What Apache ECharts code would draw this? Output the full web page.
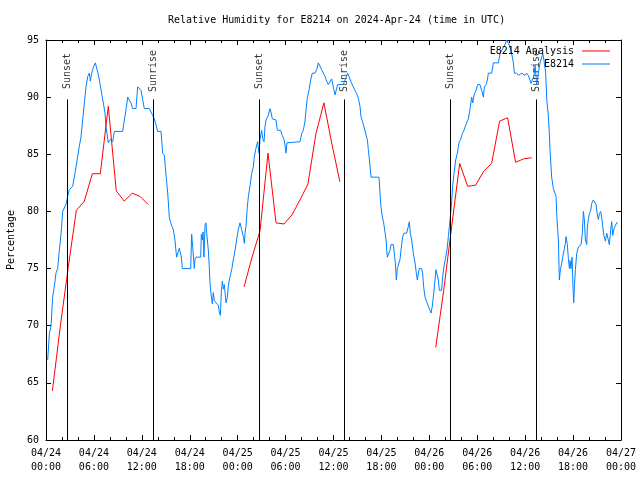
<!DOCTYPE html>
<html><head><meta charset="utf-8">
<script src="https://cdn.jsdelivr.net/npm/echarts/dist/echarts.min.js"></script>
<style>html,body{margin:0;padding:0;background:#fff}#c{width:640px;height:480px}</style>
</head><body><div id="c"></div><script>
// Hours since 2024-04-24 00:00 UTC
const obsTime = [0.21,0.42,0.63,0.83,1.04,1.25,1.46,1.67,1.88,2.09,2.30,2.50,2.71,2.92,3.34,3.55,3.76,3.96,4.17,4.38,4.59,4.80,5.01,5.22,5.43,5.55,5.72,5.97,6.18,6.34,6.51,6.76,6.97,7.18,7.39,7.51,7.64,7.80,7.93,8.06,8.35,8.56,9.60,9.81,10.02,10.23,10.43,10.64,10.85,11.27,11.48,11.69,11.90,12.10,12.31,12.94,13.15,13.36,13.56,13.77,13.98,14.40,14.61,14.82,14.94,15.11,15.24,15.44,15.61,15.86,15.94,16.15,16.28,16.36,16.57,16.70,16.78,16.95,17.07,18.12,18.24,18.37,18.57,18.66,18.78,19.37,19.45,19.57,19.66,19.78,19.91,20.03,20.12,20.33,20.45,20.53,20.66,20.83,20.95,21.08,21.29,21.58,21.70,21.83,21.96,22.08,22.21,22.33,22.54,22.71,22.83,23.04,23.25,23.46,23.67,23.88,24.08,24.29,24.50,24.71,24.84,24.92,25.04,25.21,25.34,25.54,25.75,25.96,26.09,26.25,26.50,26.67,26.80,27.00,27.13,27.30,27.42,27.55,27.84,28.05,28.17,28.34,28.80,28.97,29.39,29.55,29.80,29.93,30.05,30.17,30.34,31.81,32.01,32.22,32.43,32.56,32.72,32.93,33.14,33.35,33.68,33.89,34.10,34.31,34.52,34.73,34.94,35.14,35.35,35.56,35.77,35.90,36.06,36.19,36.52,37.23,37.44,37.77,37.94,38.28,38.48,38.69,38.90,39.11,39.32,39.44,39.61,39.86,40.07,40.24,40.36,40.49,40.70,41.70,41.82,41.95,42.12,42.28,42.45,42.58,42.74,42.95,43.08,43.20,43.49,43.62,43.74,43.87,43.99,44.20,44.33,44.45,44.66,44.83,45.16,45.37,45.50,45.62,45.79,46.00,46.21,46.37,46.50,46.62,46.75,47.04,47.16,47.29,47.46,47.66,47.80,48.00,48.21,48.37,48.54,48.71,48.83,49.00,49.13,49.25,49.54,49.67,49.84,50.05,50.21,50.38,50.51,50.67,50.80,50.92,51.09,51.30,51.51,51.71,51.92,52.13,52.34,52.59,52.88,53.09,53.30,53.43,53.64,53.85,54.05,54.34,54.55,54.77,54.89,55.10,55.27,55.39,55.81,56.02,56.65,56.85,57.06,57.48,57.69,57.90,58.11,58.31,58.52,58.65,58.94,59.15,59.57,59.98,60.19,60.40,60.61,60.74,60.94,61.11,61.24,61.36,61.45,61.65,61.86,62.07,62.20,62.36,62.57,62.70,62.91,63.03,63.11,63.24,63.32,63.53,63.74,63.87,63.95,64.07,64.16,64.24,64.28,64.41,64.53,64.70,64.87,65.03,65.12,65.20,65.28,65.41,65.54,65.62,65.74,65.87,65.99,66.08,66.16,66.29,66.45,66.66,67.00,67.16,67.29,67.41,67.54,67.71,67.79,67.91,68.04,68.21,68.33,68.54,68.75,68.87,69.04,69.17,69.29,69.46,69.58,69.71,69.88,70.04,70.21,70.38,70.54,70.71,70.84,70.96,71.13,71.25,71.46,71.59];
const obsRH = [67.0,69.3,70,72.5,73.4,74.6,75,76.6,78,80,80,80.6,81.3,81.9,82.2,83,83.9,84.8,85.7,86.5,88,89.5,90.9,91.8,92.1,91.4,92.1,92.7,93,93,92.1,91.2,90.3,89.5,88.6,87.4,86.8,86,86.1,86.3,86.1,87,87,88,88.9,90,90,89.5,89,89,90.9,91,90.6,89.8,89,89,88.7,88.4,88.1,87.6,87,87,85.1,84.9,83.9,82.6,81.6,79.5,79,79,78.4,77.5,76.5,76,76,76.8,76.5,76,75,75,78,76.9,75,75.8,76,76,78,77.5,78.2,76,78.8,79,78.1,76.6,75.1,73.8,72.8,71.9,72.9,72.2,72,71.8,71.2,70.9,73,73.9,73.2,73.6,72,72.5,73.5,74.3,74.9,75.8,76.6,77.6,78.4,79,78.4,77.8,77.2,78.1,78.7,80.4,81.3,82.2,83.3,83.9,84.8,85.4,86.1,85.1,86.3,87.1,86.4,86.1,87.4,88,88.4,89,88.7,88.1,88,87.1,87.1,86.7,86.3,85.8,85.1,86,86.1,86.1,86.8,87.1,87.9,88.9,89.9,90.6,91.5,92.1,92.1,92.4,93,93,92.4,92.1,91.8,91.4,91.1,91.1,91.6,91.5,90.6,90.2,91.1,91.1,91.5,92.1,91.8,91.2,90.9,90.6,90.3,89.9,89.2,88.3,87.9,87.3,86.7,86.3,85.4,84.6,83,83,81.6,80.4,79.5,79,78.2,77.5,76,76,76.6,77.1,77.1,76.3,75.5,74,75,75,75.8,76.6,77.8,78.1,78.1,78.7,79.1,78.1,77.5,76.3,75.5,74.6,74,74.6,75,75,74.6,73.4,72.5,72.1,72,71.5,71.1,71.7,72.8,74,74.9,74.9,74,73.1,73.1,74.3,75.2,76,76.6,77.8,78.7,79.8,80.9,82.2,83.3,84.5,85.1,86,86.3,86.8,87.1,87.6,88.1,88.9,90,89.5,90.3,90.6,91.1,91.1,90.6,90,90.9,91.1,91.5,92.1,92.1,93,93,93.8,94.1,94.6,95,94.7,94.4,93.8,93,92.1,92.1,91.9,92.1,91.9,92.1,91.9,91.8,91.2,91.6,91.9,92.8,91.8,91.1,92.1,93,93.5,93.8,93.2,92.1,89.8,88.3,86.8,85.4,83.9,83,82,82,81.3,79.8,78.4,77.5,75.2,74,74.9,75.3,76,76.6,77.2,77.8,77.9,77.1,75.9,75,75.7,75,76,73.4,72,73.4,74.9,76.3,76.9,77.1,78.1,80,79.3,77.5,77.1,78.7,79.3,79.8,80.1,80.7,81,81,80.6,79.7,79.3,79.8,80,79.5,78.7,77.8,77.4,78.1,77.6,77.1,78.4,79.1,77.9,78.5,78.7,79,79];
const anaTime = [0.8,1.8,2.8,3.8,4.8,5.8,6.8,7.8,8.8,9.8,10.8,11.8,12.8,18.0,24.8,25.8,26.8,27.8,28.8,29.8,30.8,31.8,32.8,33.8,34.8,35.8,36.8,42.0,48.8,49.8,50.8,51.8,52.8,53.8,54.8,55.8,56.8,57.8,58.8,59.8,60.8];
const anaRH = [64.3,70.0,75.2,80.1,80.9,83.3,83.3,89.2,81.8,80.9,81.6,81.3,80.6,null,73.4,76.0,78.3,85.1,79.0,78.9,79.7,81.0,82.4,86.8,89.5,85.9,82.6,null,68.1,73.1,78.7,84.2,82.2,82.3,83.5,84.2,87.9,88.2,84.3,84.6,84.7];
const sunsetTimes = [2.63, 26.71, 50.63];
const sunriseTimes = [13.44, 37.36, 61.36];
const seriesNames = ['E8214 Analysis', 'E8214'];

const FONT = 'DejaVu Sans Mono';
const lineTop = 89.8, labelLevel = 92.2;

function fmtHour(v) {
  const d = 24 + Math.floor(v / 24);
  const hh = v % 24;
  return '04/' + d + '\n' + String(hh).padStart(2, '0') + ':00';
}

const obsData = obsTime.map((t, i) => [t, obsRH[i]]);
const anaData = anaTime.map((t, i) => [t, anaRH[i] == null ? '-' : anaRH[i]]);
const eventData = sunsetTimes.map(t => [t, labelLevel, 'Sunset'])
  .concat(sunriseTimes.map(t => [t, labelLevel, 'Sunrise']));
const eventLines = sunsetTimes.concat(sunriseTimes).map(t => [{coord: [t, 60]}, {coord: [t, lineTop]}]);

const xBase = {
  type: 'value', min: 0, max: 72, interval: 6,
  axisLine: {show: true, onZero: false, lineStyle: {color: '#000', width: 1}},
  axisTick: {show: true, inside: true, length: 5, lineStyle: {color: '#000'}},
  minorTick: {show: true, splitNumber: 3, length: 3, lineStyle: {color: '#000'}},
  splitLine: {show: false}
};
const yBase = {
  type: 'value', min: 60, max: 95, interval: 5,
  axisLine: {show: true, onZero: false, lineStyle: {color: '#000', width: 1}},
  axisTick: {show: true, inside: true, length: 5, lineStyle: {color: '#000'}},
  splitLine: {show: false}
};
const legendText = {fontFamily: FONT, fontSize: 10, color: '#000', padding: [0, 3, 0, 0]};

const chart = echarts.init(document.getElementById('c'), null, {renderer: 'canvas'});
chart.setOption({
  animation: false,
  backgroundColor: '#fff',
  textStyle: {fontFamily: FONT},
  title: {
    text: 'Relative Humidity for E8214 on 2024-Apr-24 (time in UTC)',
    left: 163, top: 10,
    textStyle: {fontFamily: FONT, fontSize: 10, fontWeight: 'normal', color: '#000'}
  },
  grid: {left: 46, right: 19, top: 40, bottom: 40, containLabel: false, outerBoundsMode: 'none'},
  legend: [
    {data: [seriesNames[0]], right: 30, top: 46, padding: 0, align: 'right', icon: 'rect', itemWidth: 28, itemHeight: 1, textStyle: legendText},
    {data: [seriesNames[1]], right: 30, top: 59, padding: 0, align: 'right', icon: 'rect', itemWidth: 28, itemHeight: 1, textStyle: legendText}
  ],
  xAxis: [
    Object.assign({}, xBase, {position: 'bottom',
      axisLabel: {show: true, formatter: fmtHour, color: '#000', fontFamily: FONT, fontSize: 10, lineHeight: 14, margin: 6, showMinLabel: true, showMaxLabel: true}}),
    Object.assign({}, xBase, {position: 'top', axisLabel: {show: false}})
  ],
  yAxis: [
    Object.assign({}, yBase, {position: 'left',
      name: 'Percentage', nameLocation: 'middle', nameRotate: 90, nameGap: 30,
      nameTextStyle: {fontFamily: FONT, fontSize: 10, color: '#000'},
      axisLabel: {show: true, color: '#000', fontFamily: FONT, fontSize: 10, margin: 7}}),
    Object.assign({}, yBase, {position: 'right', axisLabel: {show: false}})
  ],
  series: [
    {
      name: 'events', type: 'scatter', xAxisIndex: 0, yAxisIndex: 0,
      data: eventData, symbolSize: 0, silent: true, z: 1,
      label: {show: true, position: 'inside', rotate: 90, offset: [1, 0], formatter: p => p.value[2],
        color: '#000', fontFamily: FONT, fontSize: 10, align: 'center', verticalAlign: 'middle'},
      markLine: {silent: true, symbol: ['none', 'none'], label: {show: false},
        lineStyle: {color: '#000', width: 1, type: 'solid'}, emphasis: {disabled: true},
        data: eventLines}
    },
    {
      name: seriesNames[0], type: 'line', xAxisIndex: 0, yAxisIndex: 0,
      data: anaData, showSymbol: false, symbol: 'none', connectNulls: false,
      lineStyle: {color: '#ff0000', width: 1}, itemStyle: {color: '#ff0000'}, z: 3
    },
    {
      name: seriesNames[1], type: 'line', xAxisIndex: 0, yAxisIndex: 0,
      data: obsData, showSymbol: false, symbol: 'none',
      lineStyle: {color: '#0080ff', width: 1}, itemStyle: {color: '#0080ff'}, z: 2
    }
  ]
});
</script></body></html>
